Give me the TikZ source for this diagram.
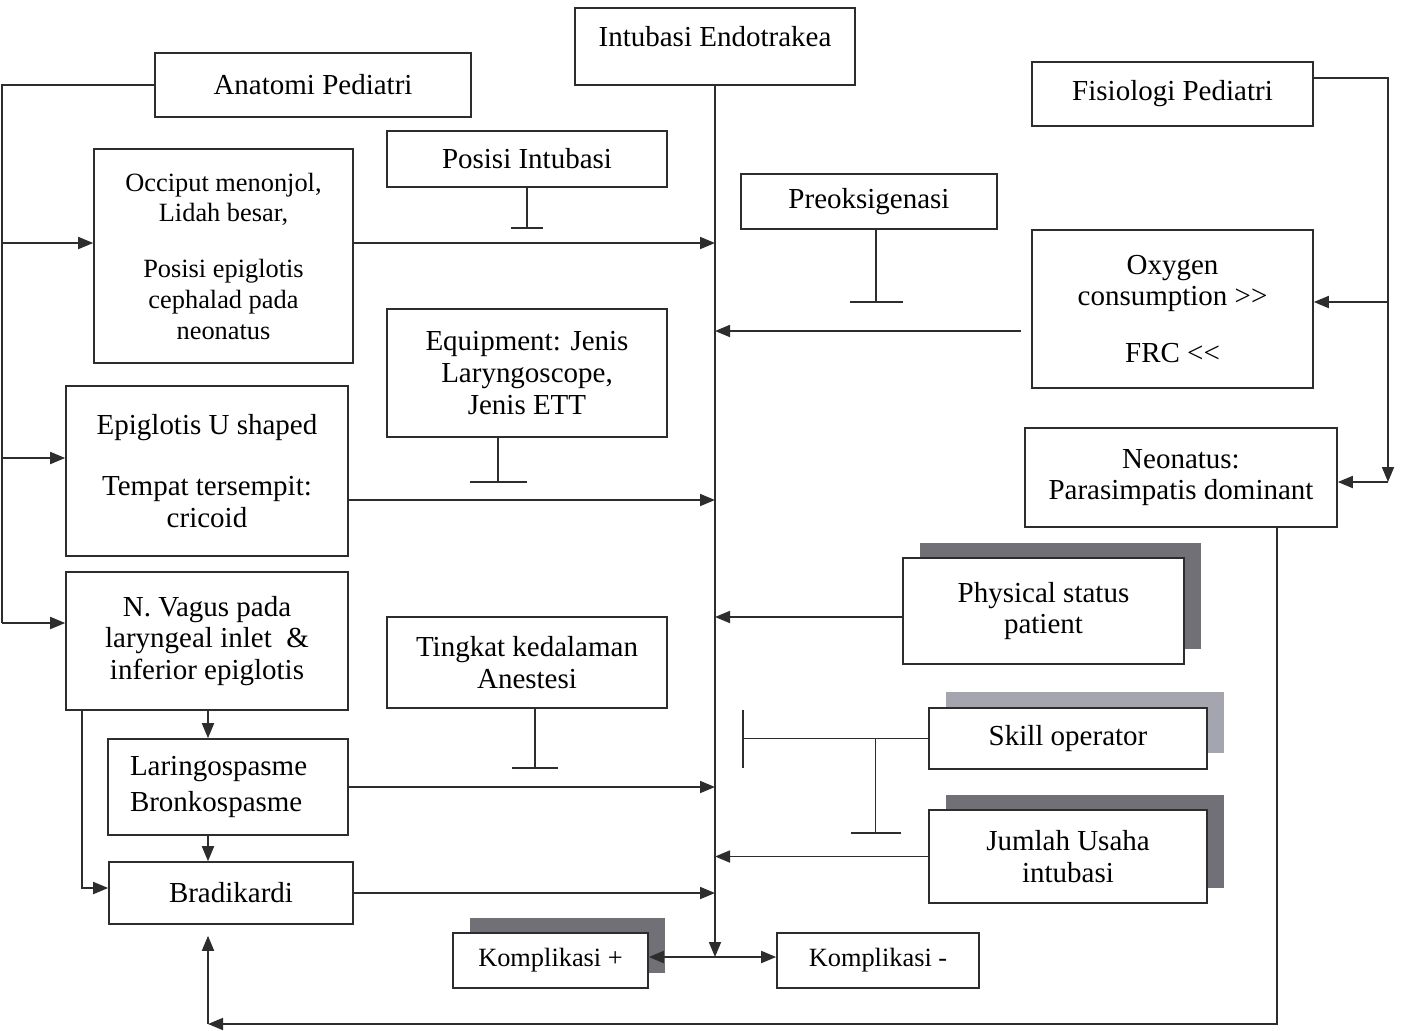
\documentclass[tikz,border=0pt]{standalone}
\usepackage{fontspec}
\setmainfont{Liberation Serif}
\usetikzlibrary{arrows.meta,shadows}
\definecolor{ink}{RGB}{45,45,45}
\definecolor{shadedark}{RGB}{112,112,118}
\definecolor{shadelight}{RGB}{165,165,175}

\begin{document}
\begin{tikzpicture}[
  >={Triangle[length=0.3cm,width=0.24cm]},
  box/.style={draw=ink, line width=0.9pt, fill=white, align=center, inner sep=2pt, font=\fontsize{16.5}{18}\selectfont},
  smallbox/.style={box, font=\fontsize{15}{17.5}\selectfont},
  darkshadow/.style={drop shadow={shadow xshift=0.34cm, shadow yshift=0.31cm, fill=shadedark, opacity=1}},
  lightshadow/.style={drop shadow={shadow xshift=0.34cm, shadow yshift=0.32cm, fill=shadelight, opacity=1}},
  line/.style={draw=ink, line width=1pt},
  flow/.style={line, ->},
  blocked/.style={line, -{Bar[width=#1]}}
]
\useasboundingbox (0,0) rectangle (28.08,-20.60);

% Top row
\node[box, minimum width=5.60cm, minimum height=1.54cm, inner ysep=0.2cm,
  text height=0.57cm, text depth=0.57cm] (intub) at (14.30,-0.93) {Intubasi Endotrakea};
\node[box, minimum width=6.32cm, minimum height=1.28cm] (anat) at (6.26,-1.70) {Anatomi Pediatri};
\node[box, minimum width=5.62cm, minimum height=1.28cm] (fisio) at (23.45,-1.88) {Fisiologi Pediatri};

% Left column: anatomy
\node[smallbox, minimum width=5.18cm, minimum height=4.28cm] (occ) at (4.47,-5.12)
  {Occiput menonjol,\\Lidah besar,\\[0.5cm]Posisi epiglotis\\cephalad pada\\neonatus};
\node[box, minimum width=5.64cm, minimum height=3.40cm] (epi) at (4.14,-9.42)
  {Epiglotis U shaped\\[0.6cm]Tempat tersempit:\\cricoid};
\node[box, minimum width=5.64cm, minimum height=2.76cm] (vagus) at (4.14,-12.82)
  {N. Vagus pada\\laryngeal inlet~~\&\\inferior epiglotis};
\node[box, align=left, text width=3.92cm, inner xsep=0.44cm, minimum height=1.92cm] (laring) at (4.56,-15.74)
  {Laringospasme\\[0.1cm]Bronkospasme};
\node[box, minimum width=4.88cm, minimum height=1.24cm] (brady) at (4.62,-17.86) {Bradikardi};

% Middle column: modifiers
\node[box, minimum width=5.60cm, minimum height=1.12cm] (posisi) at (10.54,-3.18) {Posisi Intubasi};
\node[box, minimum width=5.60cm, minimum height=2.56cm] (equip) at (10.54,-7.46)
  {Equipment: Jenis\\Laryngoscope,\\Jenis ETT};
\node[box, minimum width=5.60cm, minimum height=1.82cm] (tingkat) at (10.54,-13.25)
  {Tingkat kedalaman\\Anestesi};
\node[box, minimum width=5.12cm, minimum height=1.10cm] (preoks) at (17.38,-4.03) {Preoksigenasi};

% Right column: physiology and operator
\node[box, minimum width=5.62cm, minimum height=3.16cm] (oxy) at (23.45,-6.18)
  {Oxygen\\consumption >{}>\\[0.5cm]FRC <{}<};
\node[box, minimum width=6.24cm, minimum height=1.98cm] (neo) at (23.62,-9.55)
  {Neonatus:\\Parasimpatis dominant};
\node[box, darkshadow, minimum width=5.62cm, minimum height=2.12cm] (phys) at (20.87,-12.22)
  {Physical status\\patient};
\node[box, lightshadow, minimum width=5.56cm, minimum height=1.22cm] (skill) at (21.36,-14.77) {Skill operator};
\node[box, darkshadow, minimum width=5.56cm, minimum height=1.86cm] (jumlah) at (21.36,-17.13)
  {Jumlah Usaha\\intubasi};

% Outcomes
\node[smallbox, darkshadow, minimum width=3.90cm, minimum height=1.10cm] (kplus) at (11.01,-19.21) {Komplikasi +};
\node[smallbox, minimum width=4.04cm, minimum height=1.10cm] (kminus) at (17.56,-19.21) {Komplikasi -};

% Central spine
\coordinate (spine) at (14.30,0);
\coordinate (spineend) at (14.30,-19.14);
\draw[flow] (intub.south) -- (spineend);
\draw[flow] (spineend) -- (spineend -| kplus.east);
\draw[flow] (spineend) -- (spineend -| kminus.west);

\draw[flow] ([yshift=0.26cm]occ.east) coordinate (occout) -- (occout -| spine);
\draw[flow] ([yshift=-0.58cm]epi.east) coordinate (epiout) -- (epiout -| spine);
\draw[flow] (laring.east) -- (laring.east -| spine);
\draw[flow] (brady.east) -- (brady.east -| spine);
\draw[flow, shorten <=0.2cm] ([yshift=-0.44cm]oxy.west) coordinate (oxyout) -- (oxyout -| spine);
\draw[flow] ([yshift=-0.12cm]phys.west) coordinate (physout) -- (physout -| spine);
\draw[flow] (jumlah.west) -- (jumlah.west -| spine);

% Blocking bars
\draw[blocked=0.64cm] (posisi.south) -- ++(0,-0.82);
\draw[blocked=1.14cm] ([xshift=-0.58cm]equip.south) -- ++(0,-0.90);
\draw[blocked=0.92cm] ([xshift=0.16cm]tingkat.south) -- ++(0,-1.20);
\draw[blocked=1.06cm] ([xshift=0.14cm]preoks.south) -- ++(0,-1.46);
\coordinate (skillstop) at (14.84,-14.80);
\draw[blocked=1.16cm] (skill.west) -- coordinate[pos=0.283] (skillfork) (skill.west -| skillstop);
\draw[blocked=1.0cm] (skillfork) -- ++(0,-1.90);

% Left rail from Anatomi Pediatri
\coordinate (lrail) at (0.04,-12.46);
\draw[line] (anat.west) -| (lrail);
\coordinate (occin) at ([yshift=0.26cm]occ.west);
\coordinate (epiin) at ([yshift=0.26cm]epi.west);
\draw[flow] (lrail |- occin) -- (occin);
\draw[flow] (lrail |- epiin) -- (epiin);
\draw[flow] (lrail) -- (lrail -| vagus.west);

% Vagus chain
\coordinate (vchain) at (4.16,0);
\draw[flow] (vchain |- vagus.south) -- (vchain |- laring.north);
\draw[flow] (vchain |- laring.south) -- (vchain |- brady.north);
\draw[flow] ([xshift=-2.5cm]vagus.south) |- ([yshift=0.10cm]brady.west);

% Feedback from Neonatus
\coordinate (bcorner) at (4.16,-20.48);
\draw[flow] ([xshift=1.92cm]neo.south) |- (bcorner);
\draw[flow, shorten >=0.22cm] (bcorner) -- (bcorner |- brady.south);

% Right rail from Fisiologi Pediatri
\coordinate (rrail) at (27.76,-9.64);
\coordinate (oxyin) at ([yshift=0.14cm]oxy.east);
\coordinate (neoin) at ([yshift=-0.09cm]neo.east);
\draw[flow] ([yshift=0.32cm]fisio.east) -| (rrail);
\draw[flow] (rrail |- oxyin) -- (oxyin);
\draw[flow] (rrail |- neoin) -- (neoin);
\end{tikzpicture}
\end{document}
